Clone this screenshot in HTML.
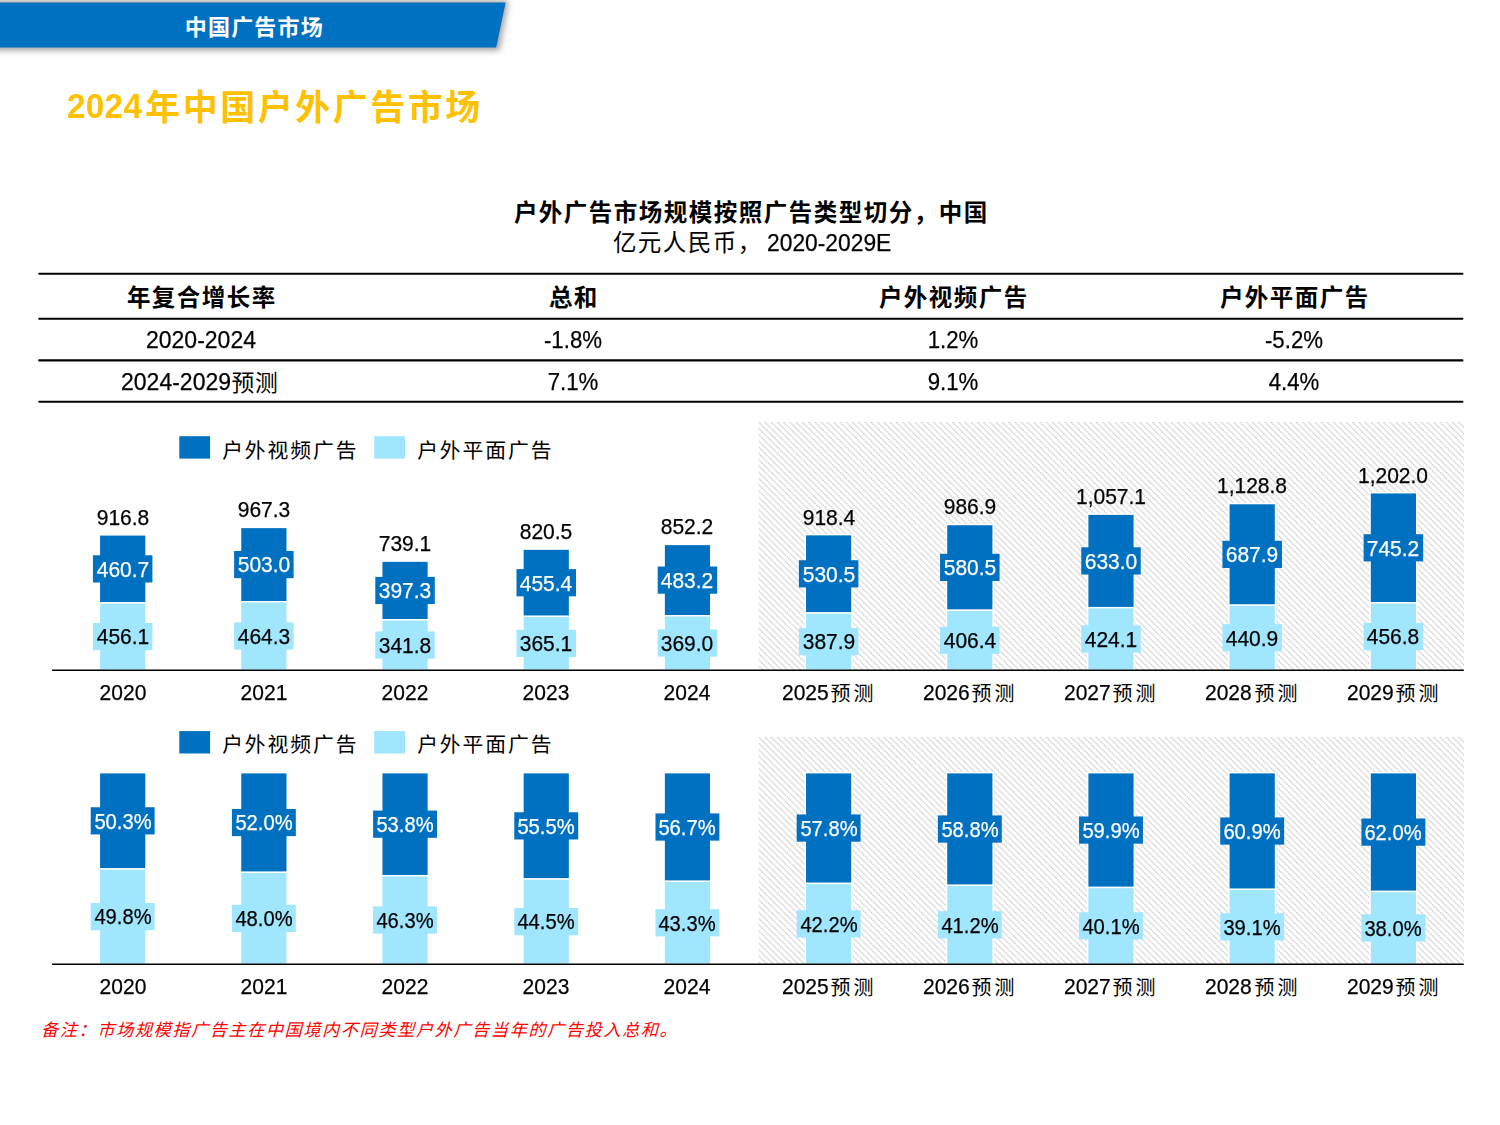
<!DOCTYPE html>
<html lang="zh-CN">
<head>
<meta charset="utf-8">
<title>2024年中国户外广告市场</title>
<style>
html,body{margin:0;padding:0;background:#fff;overflow:hidden;}
body{width:1500px;height:1125px;position:relative;overflow:hidden;font-family:"Liberation Sans",sans-serif;color:#000;}
h1,h2,p,header,footer,section{margin:0;padding:0;font-weight:normal;font-size:0;}
.layer{position:absolute;left:0;top:0;display:block;}
.zh{position:absolute;overflow:visible;display:block;}
.zh text{font-family:"Liberation Sans","Noto Sans CJK SC",sans-serif;}
.t{position:absolute;white-space:nowrap;font-family:"Liberation Sans",sans-serif;-webkit-text-stroke:0.25px;}
</style>
</head>
<body>
<header class="banner"><svg class="layer" width="560" height="80" viewBox="0 0 560 80" aria-hidden="true"><defs><filter id="sh" x="-0.1" y="-0.5" width="1.3" height="2.2"><feGaussianBlur stdDeviation="3"/></filter></defs><polygon points="-20,0.5 508.5,0.5 499.5,50.5 -20,50.5" fill="#000" opacity=".36" filter="url(#sh)"/><polygon points="-10,2.5 505.6,2.5 496.2,47.4 -10,47.4" fill="#0070C0"/></svg>
<svg class="zh" role="img" aria-label="中国广告市场" style="left:178.00px;top:6.96px;" width="159.20" height="41.00" viewBox="0 0 159.20 41.00"><title>中国广告市场</title><text x="6.81" y="27.95" font-size="22" letter-spacing="1.2" font-weight="bold" fill="#fff">中国广告市场</text></svg>
</header>
<h1>
<div class="t" style="top:83.92px;font-size:34.40px;line-height:44.72px;color:#FFC000;font-weight:700;-webkit-text-stroke:0;letter-spacing:0.35px;left:67.30px;transform-origin:0 50%;transform:scaleX(0.965);">2024</div>
<svg class="zh" role="img" aria-label="年中国户外广告市场" style="left:137.60px;top:78.97px;" width="357.50" height="58.88" viewBox="0 0 357.50 58.88"><title>年中国户外广告市场</title><text x="7.31" y="41.20" font-size="35" letter-spacing="2.5" font-weight="bold" fill="#FFC000">年中国户外广告市场</text></svg>
</h1>
<h2>
<svg class="zh" role="img" aria-label="户外广告市场规模按照广告类型切分，中国" style="left:506.50px;top:190.55px;" width="495.00" height="43.25" viewBox="0 0 495.00 43.25"><title>户外广告市场规模按照广告类型切分，中国</title><text x="6.88" y="29.66" font-size="23.5" letter-spacing="1.5" font-weight="bold" fill="#000">户外广告市场规模按照广告类型切分，中国</text></svg>
</h2>
<p class="sub">
<svg class="zh" role="img" aria-label="亿元人民币，" style="left:605.50px;top:220.85px;" width="170.00" height="43.25" viewBox="0 0 170.00 43.25"><title>亿元人民币，</title><text x="6.88" y="29.66" font-size="23.5" letter-spacing="1.5" fill="#000">亿元人民币，</text></svg>
<div class="t" style="top:227.18px;font-size:23.90px;line-height:31.07px;left:767.00px;transform-origin:0 50%;transform:scaleX(0.955);">2020-2029E</div>
</p>
<section class="tbl">
<svg class="layer" width="1500" height="1125" viewBox="0 0 1500 1125" aria-hidden="true"><g stroke="#000" stroke-width="2.1" stroke-linecap="round">
<line x1="39.2" x2="1462.4" y1="273.80" y2="273.80"/>
<line x1="39.2" x2="1462.4" y1="318.70" y2="318.70"/>
<line x1="39.2" x2="1462.4" y1="360.40" y2="360.40"/>
<line x1="39.2" x2="1462.4" y1="401.80" y2="401.80"/>
</g></svg>
<svg class="zh" role="img" aria-label="年复合增长率" style="left:120.00px;top:276.15px;" width="170.00" height="43.25" viewBox="0 0 170.00 43.25"><title>年复合增长率</title><text x="6.88" y="29.66" font-size="23.5" letter-spacing="1.5" font-weight="bold" fill="#000">年复合增长率</text></svg>
<svg class="zh" role="img" aria-label="总和" style="left:542.00px;top:276.15px;" width="70.00" height="43.25" viewBox="0 0 70.00 43.25"><title>总和</title><text x="6.88" y="29.66" font-size="23.5" letter-spacing="1.5" font-weight="bold" fill="#000">总和</text></svg>
<svg class="zh" role="img" aria-label="户外视频广告" style="left:872.00px;top:276.15px;" width="170.00" height="43.25" viewBox="0 0 170.00 43.25"><title>户外视频广告</title><text x="6.88" y="29.66" font-size="23.5" letter-spacing="1.5" font-weight="bold" fill="#000">户外视频广告</text></svg>
<svg class="zh" role="img" aria-label="户外平面广告" style="left:1213.00px;top:276.15px;" width="170.00" height="43.25" viewBox="0 0 170.00 43.25"><title>户外平面广告</title><text x="6.88" y="29.66" font-size="23.5" letter-spacing="1.5" font-weight="bold" fill="#000">户外平面广告</text></svg>
<div class="t" style="top:323.98px;font-size:24.10px;line-height:31.33px;left:201.00px;width:200px;margin-left:-100px;text-align:center;transform:scaleX(0.955);">2020-2024</div>
<div class="t" style="top:323.98px;font-size:24.10px;line-height:31.33px;left:573.00px;width:200px;margin-left:-100px;text-align:center;transform:scaleX(0.922);">-1.8%</div>
<div class="t" style="top:323.98px;font-size:24.10px;line-height:31.33px;left:953.00px;width:200px;margin-left:-100px;text-align:center;transform:scaleX(0.922);">1.2%</div>
<div class="t" style="top:323.98px;font-size:24.10px;line-height:31.33px;left:1294.00px;width:200px;margin-left:-100px;text-align:center;transform:scaleX(0.922);">-5.2%</div>
<div class="t" style="top:365.78px;font-size:24.10px;line-height:31.33px;left:573.00px;width:200px;margin-left:-100px;text-align:center;transform:scaleX(0.922);">7.1%</div>
<div class="t" style="top:365.78px;font-size:24.10px;line-height:31.33px;left:953.00px;width:200px;margin-left:-100px;text-align:center;transform:scaleX(0.922);">9.1%</div>
<div class="t" style="top:365.78px;font-size:24.10px;line-height:31.33px;left:1294.00px;width:200px;margin-left:-100px;text-align:center;transform:scaleX(0.922);">4.4%</div>
<div class="t" style="top:365.78px;font-size:24.10px;line-height:31.33px;left:121.00px;transform-origin:0 50%;transform:scaleX(0.955);">2024-2029</div>
<svg class="zh" role="img" aria-label="预测" style="left:224.60px;top:361.81px;" width="67.20" height="42.38" viewBox="0 0 67.20 42.38"><title>预测</title><text x="6.50" y="28.62" font-size="22.8" letter-spacing="0.8" fill="#000">预测</text></svg>
</section>
<section class="chart">
<svg class="layer" width="1500" height="1125" viewBox="0 0 1500 1125" aria-hidden="true"><defs><pattern id="hatchA" width="6.25" height="6.25" patternUnits="userSpaceOnUse" x="758.60" y="422.00"><path d="M-1.5625,-1.5625 L7.8125,7.8125 M-1.5625,4.6875 L1.5625,7.8125 M4.6875,-1.5625 L7.8125,1.5625" stroke="#cbcbcb" stroke-width="1.45" stroke-dasharray="1.45 0.76" fill="none"/></pattern></defs><rect x="758.60" y="422.00" width="705.38" height="248.30" fill="url(#hatchA)"/><rect x="179.30" y="436.20" width="30.80" height="22.40" fill="#0070C0"/><rect x="374.20" y="436.20" width="30.80" height="22.40" fill="#A0E6FF"/><g stroke="#fff" stroke-width="1.4"><rect x="99.38" y="534.89" width="46.60" height="68.05" fill="#0070C0"/><rect x="99.38" y="602.93" width="46.60" height="67.37" fill="#A0E6FF"/></g><rect x="92.92" y="555.31" width="59.50" height="27.20" fill="#0070C0"/><rect x="92.92" y="623.02" width="59.50" height="27.20" fill="#A0E6FF"/><g stroke="#fff" stroke-width="1.4"><rect x="240.56" y="527.43" width="46.60" height="74.29" fill="#0070C0"/><rect x="240.56" y="601.72" width="46.60" height="68.58" fill="#A0E6FF"/></g><rect x="234.12" y="550.98" width="59.50" height="27.20" fill="#0070C0"/><rect x="234.12" y="622.41" width="59.50" height="27.20" fill="#A0E6FF"/><g stroke="#fff" stroke-width="1.4"><rect x="381.75" y="561.13" width="46.60" height="58.68" fill="#0070C0"/><rect x="381.75" y="619.82" width="46.60" height="50.48" fill="#A0E6FF"/></g><rect x="375.31" y="576.88" width="59.50" height="27.20" fill="#0070C0"/><rect x="375.31" y="631.46" width="59.50" height="27.20" fill="#A0E6FF"/><g stroke="#fff" stroke-width="1.4"><rect x="522.95" y="549.11" width="46.60" height="67.26" fill="#0070C0"/><rect x="522.95" y="616.37" width="46.60" height="53.93" fill="#A0E6FF"/></g><rect x="516.50" y="569.14" width="59.50" height="27.20" fill="#0070C0"/><rect x="516.50" y="629.74" width="59.50" height="27.20" fill="#A0E6FF"/><g stroke="#fff" stroke-width="1.4"><rect x="664.14" y="544.43" width="46.60" height="71.37" fill="#0070C0"/><rect x="664.14" y="615.80" width="46.60" height="54.50" fill="#A0E6FF"/></g><rect x="657.69" y="566.51" width="59.50" height="27.20" fill="#0070C0"/><rect x="657.69" y="629.45" width="59.50" height="27.20" fill="#A0E6FF"/><g stroke="#fff" stroke-width="1.4"><rect x="805.33" y="534.65" width="46.60" height="78.35" fill="#0070C0"/><rect x="805.33" y="613.01" width="46.60" height="57.29" fill="#A0E6FF"/></g><rect x="798.88" y="560.23" width="59.50" height="27.20" fill="#0070C0"/><rect x="798.88" y="628.05" width="59.50" height="27.20" fill="#A0E6FF"/><g stroke="#fff" stroke-width="1.4"><rect x="946.52" y="524.53" width="46.60" height="85.74" fill="#0070C0"/><rect x="946.52" y="610.27" width="46.60" height="60.03" fill="#A0E6FF"/></g><rect x="940.07" y="553.80" width="59.50" height="27.20" fill="#0070C0"/><rect x="940.07" y="626.69" width="59.50" height="27.20" fill="#A0E6FF"/><g stroke="#fff" stroke-width="1.4"><rect x="1087.70" y="514.17" width="46.60" height="93.49" fill="#0070C0"/><rect x="1087.70" y="607.66" width="46.60" height="62.64" fill="#A0E6FF"/></g><rect x="1081.25" y="547.31" width="59.50" height="27.20" fill="#0070C0"/><rect x="1081.25" y="625.38" width="59.50" height="27.20" fill="#A0E6FF"/><g stroke="#fff" stroke-width="1.4"><rect x="1228.89" y="503.58" width="46.60" height="101.60" fill="#0070C0"/><rect x="1228.89" y="605.18" width="46.60" height="65.12" fill="#A0E6FF"/></g><rect x="1222.44" y="540.78" width="59.50" height="27.20" fill="#0070C0"/><rect x="1222.44" y="624.14" width="59.50" height="27.20" fill="#A0E6FF"/><g stroke="#fff" stroke-width="1.4"><rect x="1370.09" y="492.76" width="46.60" height="110.07" fill="#0070C0"/><rect x="1370.09" y="602.83" width="46.60" height="67.47" fill="#A0E6FF"/></g><rect x="1363.63" y="534.20" width="59.50" height="27.20" fill="#0070C0"/><rect x="1363.63" y="622.97" width="59.50" height="27.20" fill="#A0E6FF"/><line x1="52.08" x2="1463.78" y1="670.30" y2="670.30" stroke="#000" stroke-width="1.6"/></svg>
<svg class="zh" role="img" aria-label="户外视频广告" style="left:215.30px;top:430.50px;" width="156.50" height="39.50" viewBox="0 0 156.50 39.50"><title>户外视频广告</title><text x="7.14" y="26.82" font-size="20.8" letter-spacing="1.95" fill="#000">户外视频广告</text></svg><svg class="zh" role="img" aria-label="户外平面广告" style="left:410.00px;top:430.50px;" width="156.50" height="39.50" viewBox="0 0 156.50 39.50"><title>户外平面广告</title><text x="7.14" y="26.82" font-size="20.8" letter-spacing="1.95" fill="#000">户外平面广告</text></svg>
<div class="t" style="top:555.69px;font-size:22.00px;line-height:28.60px;color:#fff;left:122.67px;width:200px;margin-left:-100px;text-align:center;transform:scaleX(0.955);">460.7</div>
<div class="t" style="top:623.39px;font-size:22.00px;line-height:28.60px;left:122.67px;width:200px;margin-left:-100px;text-align:center;transform:scaleX(0.955);">456.1</div>
<div class="t" style="top:503.77px;font-size:22.00px;line-height:28.60px;left:122.67px;width:200px;margin-left:-100px;text-align:center;transform:scaleX(0.955);">916.8</div>
<div class="t" style="top:679.38px;font-size:22.00px;line-height:28.60px;left:122.67px;width:200px;margin-left:-100px;text-align:center;transform:scaleX(0.955);">2020</div>
<div class="t" style="top:551.35px;font-size:22.00px;line-height:28.60px;color:#fff;left:263.87px;width:200px;margin-left:-100px;text-align:center;transform:scaleX(0.955);">503.0</div>
<div class="t" style="top:622.79px;font-size:22.00px;line-height:28.60px;left:263.87px;width:200px;margin-left:-100px;text-align:center;transform:scaleX(0.955);">464.3</div>
<div class="t" style="top:496.31px;font-size:22.00px;line-height:28.60px;left:263.87px;width:200px;margin-left:-100px;text-align:center;transform:scaleX(0.955);">967.3</div>
<div class="t" style="top:679.38px;font-size:22.00px;line-height:28.60px;left:263.87px;width:200px;margin-left:-100px;text-align:center;transform:scaleX(0.955);">2021</div>
<div class="t" style="top:577.25px;font-size:22.00px;line-height:28.60px;color:#fff;left:405.06px;width:200px;margin-left:-100px;text-align:center;transform:scaleX(0.955);">397.3</div>
<div class="t" style="top:631.84px;font-size:22.00px;line-height:28.60px;left:405.06px;width:200px;margin-left:-100px;text-align:center;transform:scaleX(0.955);">341.8</div>
<div class="t" style="top:530.01px;font-size:22.00px;line-height:28.60px;left:405.06px;width:200px;margin-left:-100px;text-align:center;transform:scaleX(0.955);">739.1</div>
<div class="t" style="top:679.38px;font-size:22.00px;line-height:28.60px;left:405.06px;width:200px;margin-left:-100px;text-align:center;transform:scaleX(0.955);">2022</div>
<div class="t" style="top:569.52px;font-size:22.00px;line-height:28.60px;color:#fff;left:546.25px;width:200px;margin-left:-100px;text-align:center;transform:scaleX(0.955);">455.4</div>
<div class="t" style="top:630.11px;font-size:22.00px;line-height:28.60px;left:546.25px;width:200px;margin-left:-100px;text-align:center;transform:scaleX(0.955);">365.1</div>
<div class="t" style="top:517.99px;font-size:22.00px;line-height:28.60px;left:546.25px;width:200px;margin-left:-100px;text-align:center;transform:scaleX(0.955);">820.5</div>
<div class="t" style="top:679.38px;font-size:22.00px;line-height:28.60px;left:546.25px;width:200px;margin-left:-100px;text-align:center;transform:scaleX(0.955);">2023</div>
<div class="t" style="top:566.89px;font-size:22.00px;line-height:28.60px;color:#fff;left:687.44px;width:200px;margin-left:-100px;text-align:center;transform:scaleX(0.955);">483.2</div>
<div class="t" style="top:629.83px;font-size:22.00px;line-height:28.60px;left:687.44px;width:200px;margin-left:-100px;text-align:center;transform:scaleX(0.955);">369.0</div>
<div class="t" style="top:513.31px;font-size:22.00px;line-height:28.60px;left:687.44px;width:200px;margin-left:-100px;text-align:center;transform:scaleX(0.955);">852.2</div>
<div class="t" style="top:679.38px;font-size:22.00px;line-height:28.60px;left:687.44px;width:200px;margin-left:-100px;text-align:center;transform:scaleX(0.955);">2024</div>
<div class="t" style="top:560.61px;font-size:22.00px;line-height:28.60px;color:#fff;left:828.62px;width:200px;margin-left:-100px;text-align:center;transform:scaleX(0.955);">530.5</div>
<div class="t" style="top:628.43px;font-size:22.00px;line-height:28.60px;left:828.62px;width:200px;margin-left:-100px;text-align:center;transform:scaleX(0.955);">387.9</div>
<div class="t" style="top:503.53px;font-size:22.00px;line-height:28.60px;left:828.62px;width:200px;margin-left:-100px;text-align:center;transform:scaleX(0.955);">918.4</div>
<div class="t" style="top:679.38px;font-size:22.00px;line-height:28.60px;left:781.83px;transform-origin:0 50%;transform:scaleX(0.955);">2025</div>
<svg class="zh" role="img" aria-label="预测" style="left:823.03px;top:673.54px;" width="65.60" height="40.50" viewBox="0 0 65.60 40.50"><title>预测</title><text x="7.60" y="26.79" font-size="20" letter-spacing="2.8" fill="#000">预测</text></svg>
<div class="t" style="top:554.18px;font-size:22.00px;line-height:28.60px;color:#fff;left:969.82px;width:200px;margin-left:-100px;text-align:center;transform:scaleX(0.955);">580.5</div>
<div class="t" style="top:627.06px;font-size:22.00px;line-height:28.60px;left:969.82px;width:200px;margin-left:-100px;text-align:center;transform:scaleX(0.955);">406.4</div>
<div class="t" style="top:493.41px;font-size:22.00px;line-height:28.60px;left:969.82px;width:200px;margin-left:-100px;text-align:center;transform:scaleX(0.955);">986.9</div>
<div class="t" style="top:679.38px;font-size:22.00px;line-height:28.60px;left:923.02px;transform-origin:0 50%;transform:scaleX(0.955);">2026</div>
<svg class="zh" role="img" aria-label="预测" style="left:964.22px;top:673.54px;" width="65.60" height="40.50" viewBox="0 0 65.60 40.50"><title>预测</title><text x="7.60" y="26.79" font-size="20" letter-spacing="2.8" fill="#000">预测</text></svg>
<div class="t" style="top:547.69px;font-size:22.00px;line-height:28.60px;color:#fff;left:1111.00px;width:200px;margin-left:-100px;text-align:center;transform:scaleX(0.955);">633.0</div>
<div class="t" style="top:625.76px;font-size:22.00px;line-height:28.60px;left:1111.00px;width:200px;margin-left:-100px;text-align:center;transform:scaleX(0.955);">424.1</div>
<div class="t" style="top:483.04px;font-size:22.00px;line-height:28.60px;left:1111.00px;width:200px;margin-left:-100px;text-align:center;transform:scaleX(0.955);">1,057.1</div>
<div class="t" style="top:679.38px;font-size:22.00px;line-height:28.60px;left:1064.20px;transform-origin:0 50%;transform:scaleX(0.955);">2027</div>
<svg class="zh" role="img" aria-label="预测" style="left:1105.40px;top:673.54px;" width="65.60" height="40.50" viewBox="0 0 65.60 40.50"><title>预测</title><text x="7.60" y="26.79" font-size="20" letter-spacing="2.8" fill="#000">预测</text></svg>
<div class="t" style="top:541.15px;font-size:22.00px;line-height:28.60px;color:#fff;left:1252.19px;width:200px;margin-left:-100px;text-align:center;transform:scaleX(0.955);">687.9</div>
<div class="t" style="top:624.52px;font-size:22.00px;line-height:28.60px;left:1252.19px;width:200px;margin-left:-100px;text-align:center;transform:scaleX(0.955);">440.9</div>
<div class="t" style="top:472.45px;font-size:22.00px;line-height:28.60px;left:1252.19px;width:200px;margin-left:-100px;text-align:center;transform:scaleX(0.955);">1,128.8</div>
<div class="t" style="top:679.38px;font-size:22.00px;line-height:28.60px;left:1205.39px;transform-origin:0 50%;transform:scaleX(0.955);">2028</div>
<svg class="zh" role="img" aria-label="预测" style="left:1246.60px;top:673.54px;" width="65.60" height="40.50" viewBox="0 0 65.60 40.50"><title>预测</title><text x="7.60" y="26.79" font-size="20" letter-spacing="2.8" fill="#000">预测</text></svg>
<div class="t" style="top:534.57px;font-size:22.00px;line-height:28.60px;color:#fff;left:1393.38px;width:200px;margin-left:-100px;text-align:center;transform:scaleX(0.955);">745.2</div>
<div class="t" style="top:623.34px;font-size:22.00px;line-height:28.60px;left:1393.38px;width:200px;margin-left:-100px;text-align:center;transform:scaleX(0.955);">456.8</div>
<div class="t" style="top:461.64px;font-size:22.00px;line-height:28.60px;left:1393.38px;width:200px;margin-left:-100px;text-align:center;transform:scaleX(0.955);">1,202.0</div>
<div class="t" style="top:679.38px;font-size:22.00px;line-height:28.60px;left:1346.59px;transform-origin:0 50%;transform:scaleX(0.955);">2029</div>
<svg class="zh" role="img" aria-label="预测" style="left:1387.79px;top:673.54px;" width="65.60" height="40.50" viewBox="0 0 65.60 40.50"><title>预测</title><text x="7.60" y="26.79" font-size="20" letter-spacing="2.8" fill="#000">预测</text></svg>
</section>
<section class="chart">
<svg class="layer" width="1500" height="1125" viewBox="0 0 1500 1125" aria-hidden="true"><defs><pattern id="hatchB" width="6.25" height="6.25" patternUnits="userSpaceOnUse" x="758.60" y="737.00"><path d="M-1.5625,-1.5625 L7.8125,7.8125 M-1.5625,4.6875 L1.5625,7.8125 M4.6875,-1.5625 L7.8125,1.5625" stroke="#cbcbcb" stroke-width="1.45" stroke-dasharray="1.45 0.76" fill="none"/></pattern></defs><rect x="758.60" y="737.00" width="705.38" height="227.30" fill="url(#hatchB)"/><rect x="179.30" y="731.10" width="30.80" height="22.40" fill="#0070C0"/><rect x="374.20" y="731.10" width="30.80" height="22.40" fill="#A0E6FF"/><g stroke="#fff" stroke-width="1.4"><rect x="99.38" y="772.70" width="46.60" height="96.28" fill="#0070C0"/><rect x="99.38" y="868.98" width="46.60" height="95.32" fill="#A0E6FF"/></g><rect x="90.72" y="807.24" width="63.90" height="27.20" fill="#0070C0"/><rect x="90.72" y="903.04" width="63.90" height="27.20" fill="#A0E6FF"/><g stroke="#fff" stroke-width="1.4"><rect x="240.56" y="772.70" width="46.60" height="99.63" fill="#0070C0"/><rect x="240.56" y="872.33" width="46.60" height="91.97" fill="#A0E6FF"/></g><rect x="231.92" y="808.92" width="63.90" height="27.20" fill="#0070C0"/><rect x="231.92" y="904.72" width="63.90" height="27.20" fill="#A0E6FF"/><g stroke="#fff" stroke-width="1.4"><rect x="381.75" y="772.70" width="46.60" height="102.98" fill="#0070C0"/><rect x="381.75" y="875.68" width="46.60" height="88.62" fill="#A0E6FF"/></g><rect x="373.11" y="810.59" width="63.90" height="27.20" fill="#0070C0"/><rect x="373.11" y="906.39" width="63.90" height="27.20" fill="#A0E6FF"/><g stroke="#fff" stroke-width="1.4"><rect x="522.95" y="772.70" width="46.60" height="106.34" fill="#0070C0"/><rect x="522.95" y="879.04" width="46.60" height="85.26" fill="#A0E6FF"/></g><rect x="514.29" y="812.27" width="63.90" height="27.20" fill="#0070C0"/><rect x="514.29" y="908.07" width="63.90" height="27.20" fill="#A0E6FF"/><g stroke="#fff" stroke-width="1.4"><rect x="664.14" y="772.70" width="46.60" height="108.64" fill="#0070C0"/><rect x="664.14" y="881.34" width="46.60" height="82.96" fill="#A0E6FF"/></g><rect x="655.49" y="813.42" width="63.90" height="27.20" fill="#0070C0"/><rect x="655.49" y="909.22" width="63.90" height="27.20" fill="#A0E6FF"/><g stroke="#fff" stroke-width="1.4"><rect x="805.33" y="772.70" width="46.60" height="110.74" fill="#0070C0"/><rect x="805.33" y="883.44" width="46.60" height="80.86" fill="#A0E6FF"/></g><rect x="796.67" y="814.47" width="63.90" height="27.20" fill="#0070C0"/><rect x="796.67" y="910.27" width="63.90" height="27.20" fill="#A0E6FF"/><g stroke="#fff" stroke-width="1.4"><rect x="946.52" y="772.70" width="46.60" height="112.66" fill="#0070C0"/><rect x="946.52" y="885.36" width="46.60" height="78.94" fill="#A0E6FF"/></g><rect x="937.87" y="815.43" width="63.90" height="27.20" fill="#0070C0"/><rect x="937.87" y="911.23" width="63.90" height="27.20" fill="#A0E6FF"/><g stroke="#fff" stroke-width="1.4"><rect x="1087.70" y="772.70" width="46.60" height="114.77" fill="#0070C0"/><rect x="1087.70" y="887.47" width="46.60" height="76.83" fill="#A0E6FF"/></g><rect x="1079.05" y="816.48" width="63.90" height="27.20" fill="#0070C0"/><rect x="1079.05" y="912.28" width="63.90" height="27.20" fill="#A0E6FF"/><g stroke="#fff" stroke-width="1.4"><rect x="1228.89" y="772.70" width="46.60" height="116.68" fill="#0070C0"/><rect x="1228.89" y="889.38" width="46.60" height="74.92" fill="#A0E6FF"/></g><rect x="1220.24" y="817.44" width="63.90" height="27.20" fill="#0070C0"/><rect x="1220.24" y="913.24" width="63.90" height="27.20" fill="#A0E6FF"/><g stroke="#fff" stroke-width="1.4"><rect x="1370.09" y="772.70" width="46.60" height="118.79" fill="#0070C0"/><rect x="1370.09" y="891.49" width="46.60" height="72.81" fill="#A0E6FF"/></g><rect x="1361.43" y="818.50" width="63.90" height="27.20" fill="#0070C0"/><rect x="1361.43" y="914.30" width="63.90" height="27.20" fill="#A0E6FF"/><line x1="52.08" x2="1463.78" y1="964.30" y2="964.30" stroke="#000" stroke-width="1.6"/></svg>
<svg class="zh" role="img" aria-label="户外视频广告" style="left:215.30px;top:725.40px;" width="156.50" height="39.50" viewBox="0 0 156.50 39.50"><title>户外视频广告</title><text x="7.14" y="26.82" font-size="20.8" letter-spacing="1.95" fill="#000">户外视频广告</text></svg><svg class="zh" role="img" aria-label="户外平面广告" style="left:410.00px;top:725.40px;" width="156.50" height="39.50" viewBox="0 0 156.50 39.50"><title>户外平面广告</title><text x="7.14" y="26.82" font-size="20.8" letter-spacing="1.95" fill="#000">户外平面广告</text></svg>
<div class="t" style="top:807.62px;font-size:22.00px;line-height:28.60px;color:#fff;left:122.67px;width:200px;margin-left:-100px;text-align:center;transform:scaleX(0.917);">50.3%</div>
<div class="t" style="top:903.42px;font-size:22.00px;line-height:28.60px;left:122.67px;width:200px;margin-left:-100px;text-align:center;transform:scaleX(0.917);">49.8%</div>
<div class="t" style="top:973.38px;font-size:22.00px;line-height:28.60px;left:122.67px;width:200px;margin-left:-100px;text-align:center;transform:scaleX(0.955);">2020</div>
<div class="t" style="top:809.29px;font-size:22.00px;line-height:28.60px;color:#fff;left:263.87px;width:200px;margin-left:-100px;text-align:center;transform:scaleX(0.917);">52.0%</div>
<div class="t" style="top:905.09px;font-size:22.00px;line-height:28.60px;left:263.87px;width:200px;margin-left:-100px;text-align:center;transform:scaleX(0.917);">48.0%</div>
<div class="t" style="top:973.38px;font-size:22.00px;line-height:28.60px;left:263.87px;width:200px;margin-left:-100px;text-align:center;transform:scaleX(0.955);">2021</div>
<div class="t" style="top:810.97px;font-size:22.00px;line-height:28.60px;color:#fff;left:405.06px;width:200px;margin-left:-100px;text-align:center;transform:scaleX(0.917);">53.8%</div>
<div class="t" style="top:906.77px;font-size:22.00px;line-height:28.60px;left:405.06px;width:200px;margin-left:-100px;text-align:center;transform:scaleX(0.917);">46.3%</div>
<div class="t" style="top:973.38px;font-size:22.00px;line-height:28.60px;left:405.06px;width:200px;margin-left:-100px;text-align:center;transform:scaleX(0.955);">2022</div>
<div class="t" style="top:812.65px;font-size:22.00px;line-height:28.60px;color:#fff;left:546.25px;width:200px;margin-left:-100px;text-align:center;transform:scaleX(0.917);">55.5%</div>
<div class="t" style="top:908.45px;font-size:22.00px;line-height:28.60px;left:546.25px;width:200px;margin-left:-100px;text-align:center;transform:scaleX(0.917);">44.5%</div>
<div class="t" style="top:973.38px;font-size:22.00px;line-height:28.60px;left:546.25px;width:200px;margin-left:-100px;text-align:center;transform:scaleX(0.955);">2023</div>
<div class="t" style="top:813.80px;font-size:22.00px;line-height:28.60px;color:#fff;left:687.44px;width:200px;margin-left:-100px;text-align:center;transform:scaleX(0.917);">56.7%</div>
<div class="t" style="top:909.60px;font-size:22.00px;line-height:28.60px;left:687.44px;width:200px;margin-left:-100px;text-align:center;transform:scaleX(0.917);">43.3%</div>
<div class="t" style="top:973.38px;font-size:22.00px;line-height:28.60px;left:687.44px;width:200px;margin-left:-100px;text-align:center;transform:scaleX(0.955);">2024</div>
<div class="t" style="top:814.85px;font-size:22.00px;line-height:28.60px;color:#fff;left:828.62px;width:200px;margin-left:-100px;text-align:center;transform:scaleX(0.917);">57.8%</div>
<div class="t" style="top:910.65px;font-size:22.00px;line-height:28.60px;left:828.62px;width:200px;margin-left:-100px;text-align:center;transform:scaleX(0.917);">42.2%</div>
<div class="t" style="top:973.38px;font-size:22.00px;line-height:28.60px;left:781.83px;transform-origin:0 50%;transform:scaleX(0.955);">2025</div>
<svg class="zh" role="img" aria-label="预测" style="left:823.03px;top:967.54px;" width="65.60" height="40.50" viewBox="0 0 65.60 40.50"><title>预测</title><text x="7.60" y="26.79" font-size="20" letter-spacing="2.8" fill="#000">预测</text></svg>
<div class="t" style="top:815.81px;font-size:22.00px;line-height:28.60px;color:#fff;left:969.82px;width:200px;margin-left:-100px;text-align:center;transform:scaleX(0.917);">58.8%</div>
<div class="t" style="top:911.61px;font-size:22.00px;line-height:28.60px;left:969.82px;width:200px;margin-left:-100px;text-align:center;transform:scaleX(0.917);">41.2%</div>
<div class="t" style="top:973.38px;font-size:22.00px;line-height:28.60px;left:923.02px;transform-origin:0 50%;transform:scaleX(0.955);">2026</div>
<svg class="zh" role="img" aria-label="预测" style="left:964.22px;top:967.54px;" width="65.60" height="40.50" viewBox="0 0 65.60 40.50"><title>预测</title><text x="7.60" y="26.79" font-size="20" letter-spacing="2.8" fill="#000">预测</text></svg>
<div class="t" style="top:816.86px;font-size:22.00px;line-height:28.60px;color:#fff;left:1111.00px;width:200px;margin-left:-100px;text-align:center;transform:scaleX(0.917);">59.9%</div>
<div class="t" style="top:912.66px;font-size:22.00px;line-height:28.60px;left:1111.00px;width:200px;margin-left:-100px;text-align:center;transform:scaleX(0.917);">40.1%</div>
<div class="t" style="top:973.38px;font-size:22.00px;line-height:28.60px;left:1064.20px;transform-origin:0 50%;transform:scaleX(0.955);">2027</div>
<svg class="zh" role="img" aria-label="预测" style="left:1105.40px;top:967.54px;" width="65.60" height="40.50" viewBox="0 0 65.60 40.50"><title>预测</title><text x="7.60" y="26.79" font-size="20" letter-spacing="2.8" fill="#000">预测</text></svg>
<div class="t" style="top:817.82px;font-size:22.00px;line-height:28.60px;color:#fff;left:1252.19px;width:200px;margin-left:-100px;text-align:center;transform:scaleX(0.917);">60.9%</div>
<div class="t" style="top:913.62px;font-size:22.00px;line-height:28.60px;left:1252.19px;width:200px;margin-left:-100px;text-align:center;transform:scaleX(0.917);">39.1%</div>
<div class="t" style="top:973.38px;font-size:22.00px;line-height:28.60px;left:1205.39px;transform-origin:0 50%;transform:scaleX(0.955);">2028</div>
<svg class="zh" role="img" aria-label="预测" style="left:1246.60px;top:967.54px;" width="65.60" height="40.50" viewBox="0 0 65.60 40.50"><title>预测</title><text x="7.60" y="26.79" font-size="20" letter-spacing="2.8" fill="#000">预测</text></svg>
<div class="t" style="top:818.87px;font-size:22.00px;line-height:28.60px;color:#fff;left:1393.38px;width:200px;margin-left:-100px;text-align:center;transform:scaleX(0.917);">62.0%</div>
<div class="t" style="top:914.67px;font-size:22.00px;line-height:28.60px;left:1393.38px;width:200px;margin-left:-100px;text-align:center;transform:scaleX(0.917);">38.0%</div>
<div class="t" style="top:973.38px;font-size:22.00px;line-height:28.60px;left:1346.59px;transform-origin:0 50%;transform:scaleX(0.955);">2029</div>
<svg class="zh" role="img" aria-label="预测" style="left:1387.79px;top:967.54px;" width="65.60" height="40.50" viewBox="0 0 65.60 40.50"><title>预测</title><text x="7.60" y="26.79" font-size="20" letter-spacing="2.8" fill="#000">预测</text></svg>
</section>
<footer>
<svg class="zh" role="img" aria-label="备注：市场规模指广告主在中国境内不同类型户外广告当年的广告投入总和。" style="left:34.00px;top:1012.71px;" width="657.50" height="34.75" viewBox="0 0 657.50 34.75"><title>备注：市场规模指广告主在中国境内不同类型户外广告当年的广告投入总和。</title><g transform="translate(0.00 23.29) skewX(-15) translate(0 -23.29)"><text x="6.91" y="23.22" font-size="17.2" letter-spacing="1.55" fill="#FF0000">备注：市场规模指广告主在中国境内不同类型户外广告当年的广告投入总和。</text></g></svg>
</footer>
</body>
</html>
